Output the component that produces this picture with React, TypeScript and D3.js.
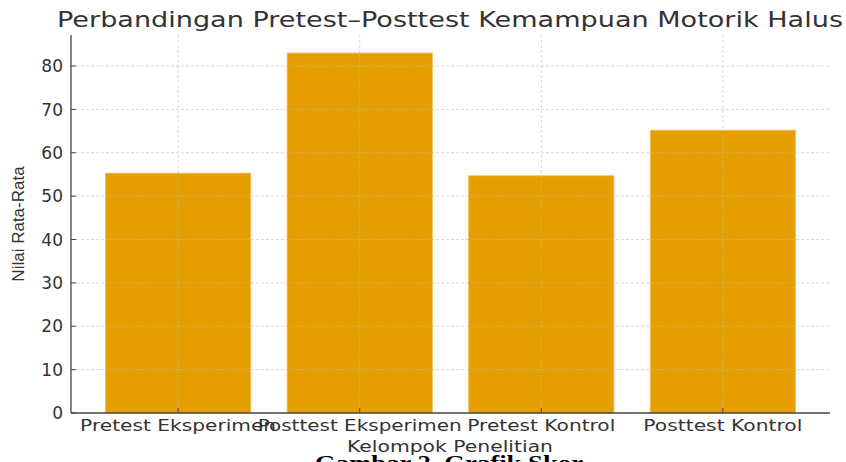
import * as d3 from 'd3';

const categories = ['Pretest Eksperimen', 'Posttest Eksperimen', 'Pretest Kontrol', 'Posttest Kontrol'];
const values = [55.3, 83.0, 54.7, 65.2];
const yTicks = [0, 10, 20, 30, 40, 50, 60, 70, 80];
const tickLabelWidths = [196, 204, 148, 159];

const W = 846;
const H = 462;
const left = 71, right = 830, top = 35, bottom = 413;

export default function App() {
  const x = d3.scaleLinear().domain([-0.59, categories.length - 1 + 0.59]).range([left, right]);
  const y = d3.scaleLinear().domain([0, 87.15]).range([bottom, top]);
  const barW = x(0.8) - x(0);
  const textColor = '#333';

  return (
    <svg width={W} height={H} style={{ position: 'absolute', left: 0, top: 0, background: '#fff' }}>
      {/* bars */}
      {values.map((v, i) => (
        <rect
          key={i}
          x={x(i) - barW / 2}
          y={y(v)}
          width={barW}
          height={y(0) - y(v)}
          fill="#E69F00"
          stroke="#F0C060"
          strokeWidth={0.8}
        />
      ))}

      {/* grid, drawn above bars */}
      <g stroke="#bbb" strokeWidth={0.8} strokeDasharray="3,2" opacity={0.7}>
        {yTicks.filter(t => t > 0).map(t => (
          <line key={'h' + t} x1={left} x2={right} y1={y(t)} y2={y(t)} />
        ))}
        {categories.map((c, i) => (
          <line key={'v' + i} x1={x(i)} x2={x(i)} y1={top} y2={bottom} />
        ))}
      </g>

      {/* ticks */}
      <g stroke="#444" strokeWidth={1}>
        {yTicks.map(t => (
          <line key={'yt' + t} x1={left} x2={left + 5} y1={y(t)} y2={y(t)} />
        ))}
        {categories.map((c, i) => (
          <line key={'xt' + i} x1={x(i)} x2={x(i)} y1={bottom} y2={bottom - 5} />
        ))}
      </g>

      {/* spines */}
      <line x1={left} x2={left} y1={top} y2={bottom} stroke="#444" strokeWidth={1.3} />
      <line x1={left} x2={right} y1={bottom} y2={bottom} stroke="#444" strokeWidth={1.3} />

      {/* y tick labels */}
      <g fontFamily="DejaVu Sans" fontSize={17} fill={textColor} textAnchor="end">
        {yTicks.map(t => (
          <text key={'yl' + t} x={left - 8} y={y(t)} dy="0.36em">{t}</text>
        ))}
      </g>

      {/* x tick labels */}
      <g fontFamily="DejaVu Sans" fontSize={16} fill={textColor} textAnchor="middle">
        {categories.map((c, i) => (
          <text key={'xl' + i} x={x(i)} y={431} textLength={tickLabelWidths[i]} lengthAdjust="spacingAndGlyphs">{c}</text>
        ))}
      </g>

      {/* axis labels */}
      <text x={450} y={452} fontFamily="DejaVu Sans" fontSize={15} fill={textColor} textAnchor="middle" textLength={206} lengthAdjust="spacingAndGlyphs">Kelompok Penelitian</text>
      <text transform={`translate(24,${(top + bottom) / 2}) rotate(-90)`} fontFamily="Liberation Sans" fontSize={17} fill={textColor} textAnchor="middle">Nilai Rata-Rata</text>

      {/* title */}
      <text x={450} y={27} fontFamily="DejaVu Sans" fontSize={21.5} fill={textColor} textAnchor="middle" textLength={786} lengthAdjust="spacingAndGlyphs">Perbandingan Pretest–Posttest Kemampuan Motorik Halus</text>

      {/* caption below (cut off) */}
      <text x={449} y={470} fontFamily="Liberation Serif" fontWeight="bold" fontSize={22} fill="#000" textAnchor="middle" textLength={268} lengthAdjust="spacingAndGlyphs">Gambar 2. Grafik Skor</text>
    </svg>
  );
}
